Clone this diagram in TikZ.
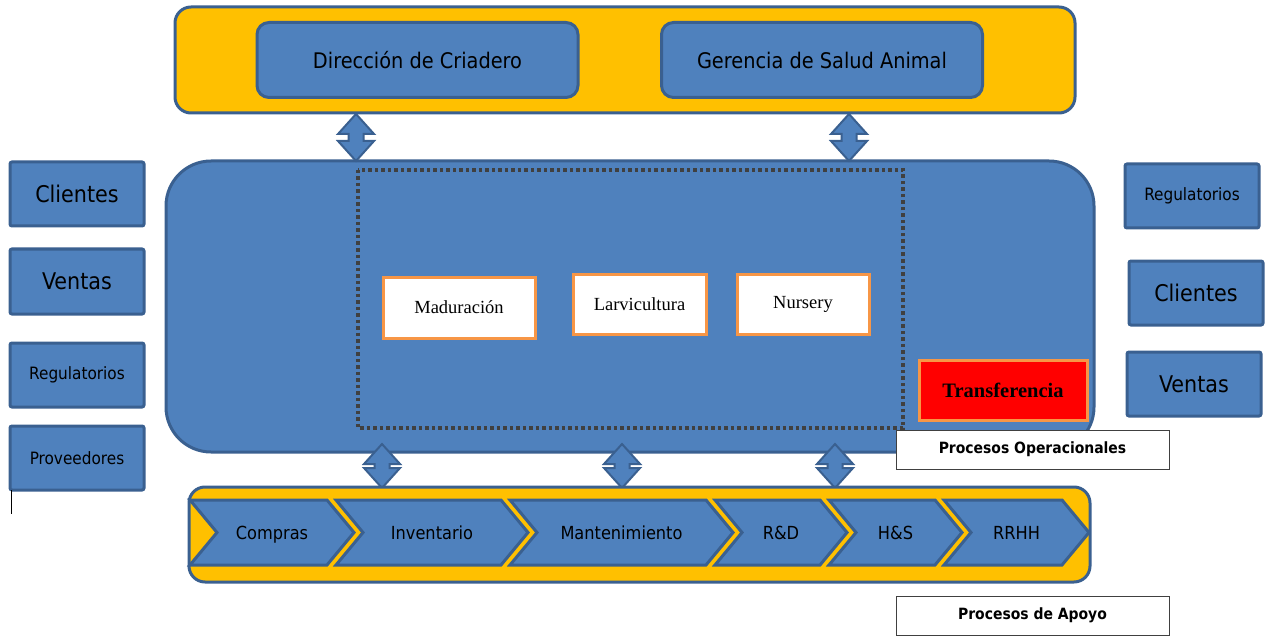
\documentclass[tikz,border=0pt]{standalone}
\usepackage{fontspec}
\newfontfamily\tah{DejaVu Sans Condensed}
\newfontfamily\ser{Liberation Serif}
\definecolor{myblue}{HTML}{4F81BD}
\definecolor{myborder}{HTML}{3A6090}
\definecolor{myyellow}{HTML}{FFC000}
\definecolor{myorange}{HTML}{F79646}
\definecolor{mydot}{HTML}{404040}
\tikzset{
  blu/.style={fill=myblue, draw=myborder, line width=3pt},
  yel/.style={fill=myyellow, draw=myborder, line width=3pt, rounded corners=16pt},
  sidebox/.style={blu, rounded corners=2pt, inner sep=0pt},
  topbox/.style={blu, rounded corners=12pt, inner sep=0pt, minimum width=321pt, minimum height=75pt},
  wbox/.style={fill=white, draw=myorange, line width=3pt, inner sep=0pt},
  lblbox/.style={fill=white, draw=mydot, line width=1pt, inner sep=0pt, minimum width=273pt, minimum height=39pt},
  chev/.style={fill=myblue, draw=myborder, line width=3pt, line join=miter},
  dbl/.style={fill=myblue, draw=myborder, line width=2pt, line join=miter},
  big/.style={font=\tah\fontsize{23}{27}\selectfont},
  topt/.style={font=\tah\fontsize{21.5}{25}\selectfont},
  sml/.style={font=\tah\fontsize{17}{20}\selectfont},
  chtxt/.style={font=\tah\fontsize{18}{22}\selectfont, anchor=base, inner sep=0pt},
  sertxt/.style={font=\ser\fontsize{18.5}{22}\selectfont},
}
\newcommand\dblarr[3]{% cx, y1, y2
  \draw[dbl] (#1,#2) -- (#1+18,#2+20) -- (#1+7.5,#2+20) -- (#1+7.5,#3-20) -- (#1+18,#3-20)
    -- (#1,#3) -- (#1-18,#3-20) -- (#1-7.5,#3-20) -- (#1-7.5,#2+20) -- (#1-18,#2+20) -- cycle;}
\newcommand\chevron[4]{% x left, x right (top corner), label, name
  \draw[chev] (#1,500) -- (#2,500) -- (#2+27,532.5) -- (#2,565) -- (#1,565) -- (#1+27,532.5) -- cycle;
  \node[chtxt] (#4) at ({(#1+#2+27)/2},539) {#3};}
\begin{document}
\begin{tikzpicture}[x=1pt,y=-1pt]
\useasboundingbox (0,0) rectangle (1265,636);

% top band
\draw[yel] (175,7) rectangle (1075,113);
\node[topbox, topt] (dir) at (417.5,60) {Dirección de Criadero};
\node[topbox, topt] (ger) at (822,60) {Gerencia de Salud Animal};

% middle band
\draw[blu, rounded corners=45pt] (166,161) rectangle (1094,452);
\draw[mydot, line width=3.5pt, dash pattern=on 3.5pt off 3pt] (358,170) rectangle (903,428);
\node[wbox, sertxt, minimum width=152pt, minimum height=61pt] (mad) at (459,307.5) {Maduración};
\node[wbox, sertxt, minimum width=133pt, minimum height=60pt] (lar) at (639.5,304) {Larvicultura};
\node[wbox, sertxt, minimum width=132pt, minimum height=60pt] (nur) at (803,304) {Nursery};
\node[wbox, fill=red, minimum width=168pt, minimum height=60pt, font=\ser\bfseries\fontsize{20.5}{24}\selectfont] (tra) at (1003,390) {Transferencia};

% arrows top
\dblarr{356}{114}{161}
\dblarr{849}{114}{161}
% arrows bottom
\dblarr{382}{444}{488}
\dblarr{622}{444}{488}
\dblarr{835}{444}{488}

% bottom band
\draw[yel] (189,487) rectangle (1090,582);
\chevron{190}{327}{Compras}{com}
\chevron{336}{501}{Inventario}{inv}
\chevron{510}{706}{Mantenimiento}{man}
\chevron{715}{820}{R\&D}{rd}
\chevron{829}{935}{H\&S}{hs}
\chevron{944}{1062}{RRHH}{rh}

% labels
\node[lblbox, font=\tah\bfseries\fontsize{15.5}{18}\selectfont] (po) at (1032.5,449.5) {Procesos Operacionales};
\node[lblbox, font=\tah\bfseries\fontsize{15.5}{18}\selectfont] (pa) at (1032.5,615.5) {Procesos de Apoyo};

% left side boxes
\node[sidebox, big, minimum width=134pt, minimum height=64pt] (lc) at (77,194) {Clientes};
\node[sidebox, big, minimum width=134pt, minimum height=65pt] (lv) at (77,281.5) {Ventas};
\node[sidebox, sml, minimum width=134pt, minimum height=64pt] (lr) at (77,375) {Regulatorios};
\node[sidebox, sml, minimum width=134pt, minimum height=64pt] (lp) at (77,458) {Proveedores};
\draw[black, line width=1pt] (11,490) -- (11,514);

% right side boxes
\node[sidebox, sml, minimum width=134pt, minimum height=64pt] (rr) at (1192,196) {Regulatorios};
\node[sidebox, big, minimum width=134pt, minimum height=64pt] (rc) at (1196,293) {Clientes};
\node[sidebox, big, minimum width=134pt, minimum height=64pt] (rv) at (1194,384) {Ventas};
\end{tikzpicture}
\end{document}
